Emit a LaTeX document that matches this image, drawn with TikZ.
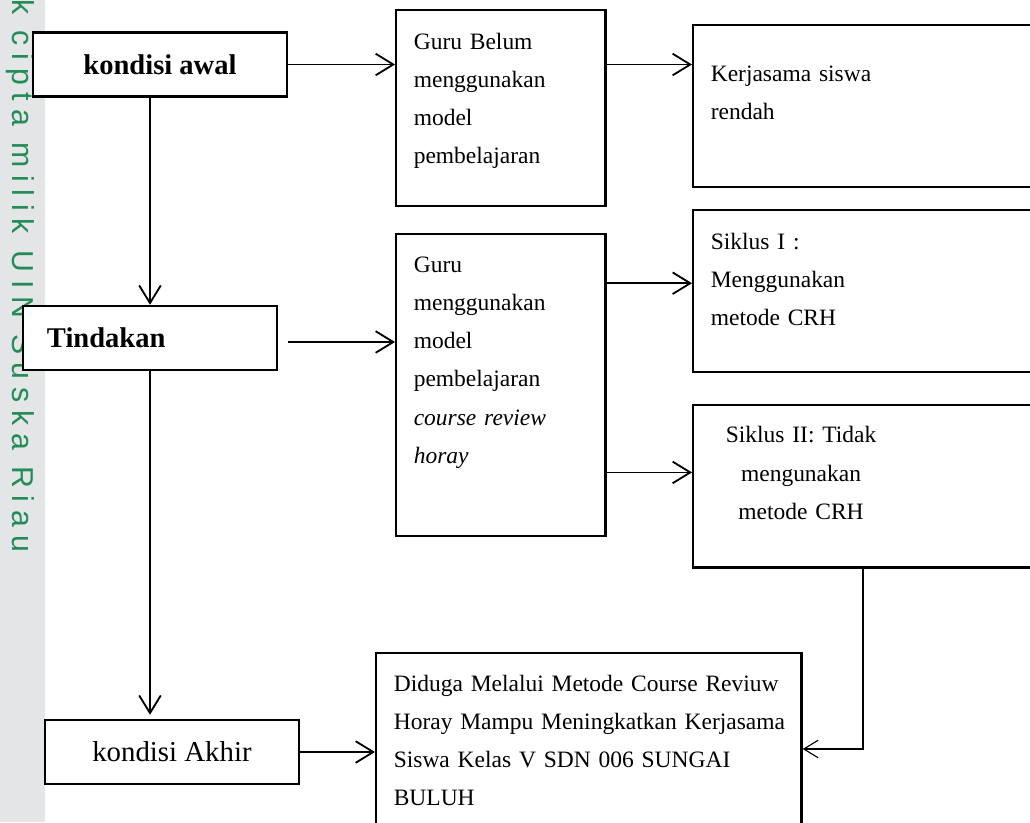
\documentclass[tikz,border=0pt]{standalone}
\usepackage{fontspec}
\setmainfont{Liberation Serif}
\newfontfamily\wmfont[LetterSpace=26]{Liberation Sans}
\usepackage{tikz}
\usetikzlibrary{positioning,arrows.meta}

\definecolor{wmgray}{RGB}{228,229,231}
\definecolor{wmgreen}{RGB}{34,139,87}

\newcommand{\baris}[1]{\begin{tabular}[t]{@{}l@{}}#1\end{tabular}}

\begin{document}
\begin{tikzpicture}
            [x=0.025cm,y=-0.025cm,
             kotak/.style={draw, fill=white, line width=1.7pt, anchor=north west, align=left,
                           inner xsep=0.44cm, inner ysep=0pt, font=\fontsize{16.7}{27.2}\selectfont},
             label kotak/.style={draw, fill=white, line width=1.7pt, inner ysep=0pt,
                           minimum height=1.6cm, font=\fontsize{20.3}{24}\selectfont\bfseries},
             panah/.style={->, line width=1.3pt, >={Straight Barb[length=0.44cm,width=0.54cm]}},
             panah tipis/.style={->, line width=0.8pt, >={Straight Barb[length=0.36cm,width=0.44cm]}}]
          \useasboundingbox (0,0) rectangle (1030,822);
          \fill[white] (0,0) rectangle (1030,822);

          % watermark strip
          \fill[wmgray] (0,0) rectangle (45,822);
          \node[text=wmgreen, font=\wmfont\fontsize{21.5}{24}\selectfont, rotate=-90, anchor=base west, inner sep=0pt] (hakcipta) at (12,-1) {k cipta milik UIN Suska Riau};

          % left column
          \node[label kotak, minimum width=6.35cm] (awal) at (160,64.5) {kondisi awal};
          \node[label kotak, text width=5.15cm, inner xsep=0.6cm, align=left] (tindakan) at (150,338) {Tindakan};
          \node[label kotak, minimum width=6.35cm, font=\fontsize{20.5}{24}\selectfont] (akhir) at (172,752) {kondisi Akhir};

          % middle column
          \node[kotak, text width=4.35cm, text height=0.975cm, text depth=3.925cm] (belum) at (395,9)
            {\baris{Guru Belum\\ menggunakan\\ model\\ pembelajaran}};
          \node[kotak, text width=4.35cm, text height=0.95cm, text depth=6.6cm] (guru) at (395,233)
            {\baris{Guru\\ menggunakan\\ model\\ pembelajaran\\ \textit{course review}\\ \textit{horay}}};
          \node[kotak, text width=9.75cm, text height=0.95cm, text depth=5cm] (hasil) at (375,652)
            {\baris{Diduga Melalui Metode Course Reviuw\\ Horay Mampu Meningkatkan Kerjasama\\ Siswa Kelas V SDN 006 SUNGAI\\ BULUH}};

          % right column
          \node[kotak, text width=9.1cm, text height=1.4cm, text depth=2.65cm] (rendah) at (692,24)
            {\baris{Kerjasama siswa\\ rendah}};
          \node[kotak, text width=9.1cm, text height=0.975cm, text depth=3.075cm] (sik1) at (692,209)
            {\baris{Siklus I :\\ Menggunakan\\ metode CRH}};
          \node[kotak, text width=9.1cm, text height=0.94cm, text depth=3.12cm] (sik2) at (692,404)
            {\hspace*{0.375cm}\begin{tabular}[t]{@{}c@{}}Siklus II: Tidak\\ mengunakan\\ metode CRH\end{tabular}};

          \coordinate (belok) at (863,749);

          \draw[panah] (awal.east) -- (awal.east -| belum.west);
          \draw[panah] (awal.east -| belum.east) -- (awal.east -| rendah.west);
          \draw[panah] (awal.south -| tindakan.north) -- (tindakan.north);
          \draw[panah] ([xshift=0.25cm,yshift=-0.1cm]tindakan.east) -- ([yshift=-0.1cm]tindakan.east -| guru.west);
          \draw[panah] ([yshift=0.2cm]sik1.west -| guru.east) -- ([yshift=0.2cm]sik1.west);
          \draw[panah] ([yshift=0.35cm]sik2.west -| guru.east) -- ([yshift=0.35cm]sik2.west);
          \draw[panah] (tindakan.south) -- ([yshift=0.1cm]tindakan.south |- akhir.north);
          \draw[panah] (akhir.east) -- (akhir.east -| hasil.west);
          \draw[panah tipis] (sik2.south -| belok) -- (belok) -- (belok -| hasil.east);
        \end{tikzpicture}
\end{document}
